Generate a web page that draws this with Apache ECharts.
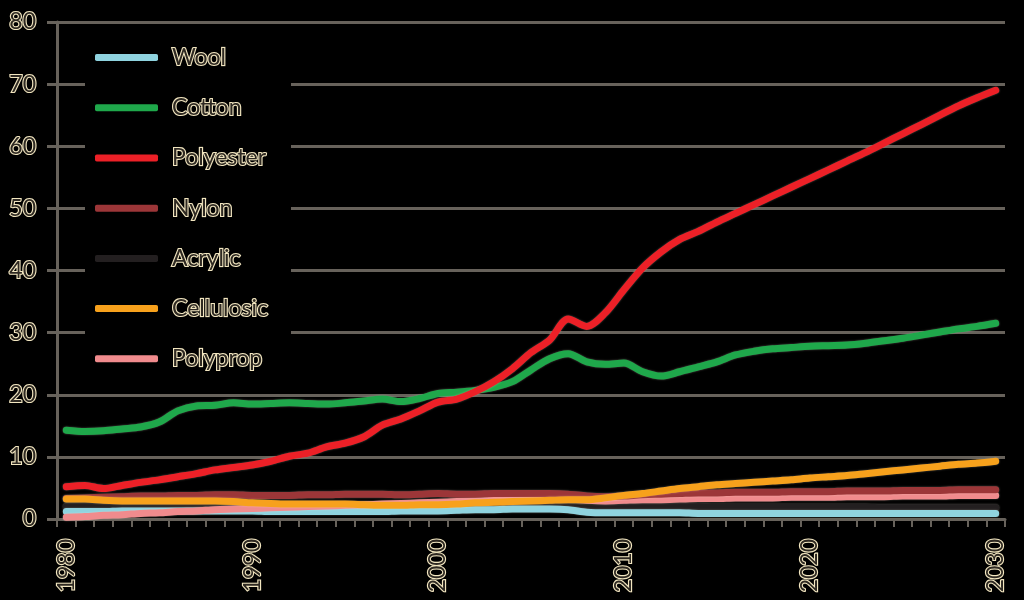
<!DOCTYPE html>
<html>
<head>
<meta charset="utf-8">
<script src="https://cdn.jsdelivr.net/npm/echarts@6/dist/echarts.min.js"></script>
<style>html,body{margin:0;padding:0;background:#000;}#c{width:1024px;height:600px;}</style>
</head>
<body>
<div id="c"></div>
<script>
var years = [];
for (var y = 1980; y <= 2030; y++) years.push(String(y));

var yTicks = [0, 10, 20, 30, 40, 50, 60, 70, 80];

var wool = [1.2,1.2,1.2,1.3,1.3,1.3,1.3,1.3,1.3,1.3,
            1.3,1.2,1.2,1.2,1.2,1.2,1.2,1.2,1.3,1.3,
            1.3,1.4,1.5,1.5,1.6,1.6,1.6,1.5,1.1,1.0,
            1.0,1.0,1.0,1.0,0.9,0.9,0.9,0.9,0.9,0.9,
            0.9,0.9,0.9,0.9,0.9,0.9,0.9,0.9,0.9,0.9,0.9];
var cotton = [14.3,14.1,14.2,14.5,14.8,15.6,17.4,18.2,18.3,18.7,
              18.5,18.6,18.7,18.6,18.5,18.7,19.0,19.3,18.9,19.4,
              20.2,20.4,20.7,21.2,22.1,24.0,25.8,26.6,25.3,24.9,
              25.1,23.7,23.0,23.7,24.5,25.3,26.4,27.0,27.4,27.6,
              27.8,27.9,28.0,28.3,28.7,29.1,29.6,30.1,30.6,31.0,31.5];
var polyester = [5.2,5.4,4.9,5.4,5.9,6.3,6.8,7.3,7.9,8.3,
                 8.7,9.3,10.1,10.6,11.6,12.2,13.2,15.1,16.1,17.4,
                 18.8,19.3,20.5,22.1,24.2,26.8,28.8,32.2,31.0,33.2,
                 36.9,40.4,43.0,45.0,46.3,47.8,49.2,50.6,52.0,53.4,
                 54.8,56.2,57.6,59.0,60.5,62.0,63.5,65.0,66.5,67.8,69.0];
var nylon = [3.3,3.4,3.5,3.6,3.7,3.7,3.8,3.8,3.9,3.9,
             3.8,3.8,3.8,3.9,3.9,4.0,4.0,4.0,3.9,4.0,
             4.1,4.0,4.0,4.1,4.1,4.1,4.1,4.0,3.7,3.6,
             3.7,3.9,4.0,4.1,4.2,4.2,4.3,4.3,4.3,4.4,
             4.4,4.4,4.5,4.5,4.5,4.6,4.6,4.6,4.7,4.7,4.7];
var acrylic = [2.0,2.0,2.0,2.0,2.1,2.1,2.1,2.2,2.2,2.2,
               2.2,2.1,2.1,2.0,2.0,2.0,1.9,1.9,1.9,1.9,
               1.9,1.9,1.9,1.9,2.0,2.0,2.0,2.0,1.7,1.8,
               1.9,2.0,2.0,2.0,2.0,1.9,1.9,1.9,1.9,1.9,
               1.9,1.9,1.9,1.9,1.8,1.8,1.8,1.8,1.8,1.8,1.8];
var cellulosic = [3.2,3.2,3.0,2.9,2.9,2.9,2.9,2.9,2.9,2.8,
                  2.6,2.5,2.4,2.4,2.4,2.4,2.3,2.2,2.2,2.3,
                  2.3,2.4,2.6,2.7,2.8,2.9,3.0,3.1,3.1,3.4,
                  3.8,4.1,4.5,4.9,5.2,5.5,5.7,5.9,6.1,6.3,
                  6.6,6.8,7.0,7.3,7.6,7.9,8.2,8.5,8.8,9.0,9.3];
var polyprop = [0.3,0.4,0.6,0.7,0.9,1.0,1.2,1.3,1.5,1.6,
                1.7,1.8,1.9,2.0,2.1,2.2,2.3,2.4,2.5,2.6,
                2.7,2.8,2.9,3.0,3.1,3.2,3.2,3.2,3.0,2.9,
                3.0,3.1,3.1,3.2,3.3,3.3,3.4,3.4,3.4,3.5,
                3.5,3.5,3.6,3.6,3.6,3.7,3.7,3.7,3.8,3.8,3.8];

var legendOrder = ['Wool','Cotton','Polyester','Nylon','Acrylic','Cellulosic','Polyprop'];

var textFill = '#2e2922';
var textEdge = '#f2e6c0';
var gridCol = '#67625b';

function mk(name, data, color, z) {
  return {
    name: name, type: 'line', data: data, symbol: 'none', smooth: 0.3,
    z: z,
    lineStyle: { width: 7, color: color, cap: 'round', join: 'round',
                 shadowColor: 'rgba(255,250,230,0.35)', shadowBlur: 2 },
    itemStyle: { color: color },
    emphasis: { disabled: true }
  };
}

var txt = { fontFamily: 'Lato', fontSize: 23, color: textFill,
            textBorderColor: textEdge, textBorderWidth: 2.2 };

var chart = echarts.init(document.getElementById('c'));
chart.setOption({
  backgroundColor: '#000',
  animation: false,
  grid: { left: 57, right: 19, top: 22, bottom: 81 },
  legend: {
    data: legendOrder,
    orient: 'vertical',
    left: 85, top: 35,
    backgroundColor: '#000',
    padding: [10, 22, 10, 10],
    itemWidth: 63, itemHeight: 7, itemGap: 25,
    icon: 'roundRect',
    selectedMode: false,
    textStyle: Object.assign({}, txt, { padding: [0, 0, 0, 9] })
  },
  xAxis: {
    type: 'category', data: years, boundaryGap: true,
    axisLine: { lineStyle: { color: gridCol, width: 3 } },
    axisTick: { show: true, interval: 0, length: 8, lineStyle: { color: gridCol, width: 2 } },
    axisLabel: Object.assign({ interval: 9, rotate: 90, margin: 20 }, txt),
    splitLine: { show: false }
  },
  yAxis: {
    type: 'value', min: yTicks[0], max: yTicks[yTicks.length - 1], interval: 10,
    axisLine: { show: true, lineStyle: { color: gridCol, width: 3 } },
    axisTick: { show: true, length: 10, lineStyle: { color: gridCol, width: 3 } },
    axisLabel: Object.assign({ margin: 21 }, txt),
    splitLine: { show: true, lineStyle: { color: gridCol, width: 3 } }
  },
  series: [
    mk('Acrylic', acrylic, '#231f20', 2),
    mk('Wool', wool, '#8fd3df', 3),
    mk('Polyprop', polyprop, '#f08b8d', 4),
    mk('Nylon', nylon, '#9c3638', 5),
    mk('Cellulosic', cellulosic, '#f7a11c', 6),
    mk('Cotton', cotton, '#1fa84b', 7),
    mk('Polyester', polyester, '#ec2027', 8)
  ]
});
</script>
</body>
</html>
